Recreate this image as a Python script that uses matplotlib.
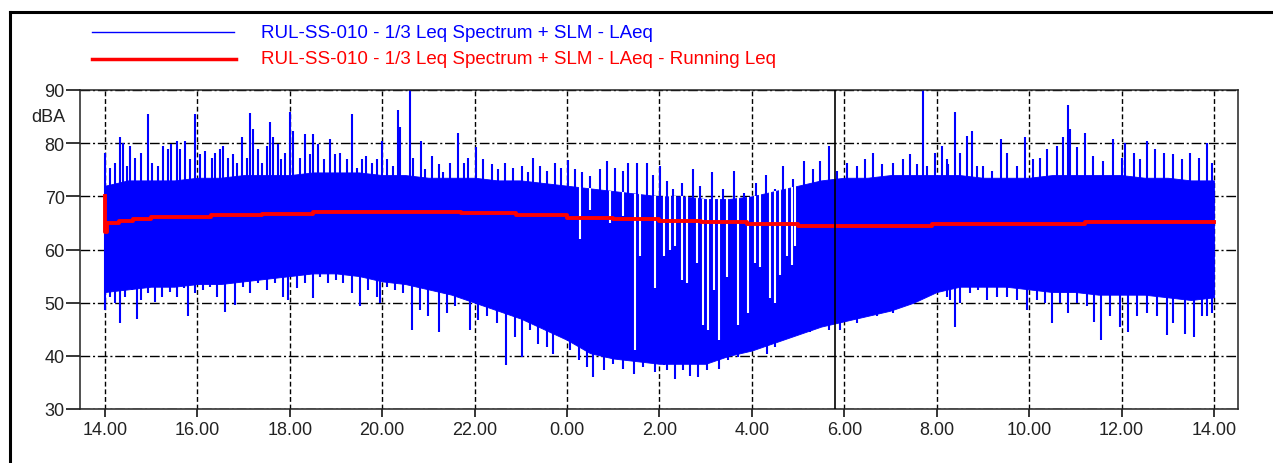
import numpy as np
import matplotlib
matplotlib.use('Agg')
import matplotlib.pyplot as plt
from matplotlib.lines import Line2D

plt.rcParams['font.family'] = ['Liberation Sans', 'DejaVu Sans']

# time in hours from midnight of day 1 (values above 24 are the next day)
hours = np.arange(14.0, 38.01, 0.5)

# dense part of the LAeq trace (dBA), read every half hour
core_hi = [72, 73, 73, 73, 73.5, 73.5, 74, 74, 74, 74.5, 74.5, 74.5,
           74, 74, 73.5, 73.5, 73.5, 73, 73, 72.5, 72, 71.5, 71, 70.5,
           70, 70, 69.5, 69.5, 70, 71, 72, 73, 73.5, 73.5, 74, 74,
           74, 74, 73.5, 73.5, 73.5, 74, 74, 74, 74, 73.5, 73.5, 73, 73]
core_lo = [52, 52.5, 53, 53, 53.5, 53.5, 54, 54.5, 55, 55.5, 55.5, 55,
           54, 53.5, 52.5, 51.5, 50, 48.5, 47, 45, 43, 40.5, 39.5, 39,
           38.5, 38.5, 38.5, 40, 41, 42.5, 44, 45.5, 46.5, 47.5, 48.5, 50,
           52, 53, 53, 53, 52.5, 52, 52, 51.5, 51.5, 51.5, 51, 50.5, 51]

# single peaks above the dense part (hour, dBA)
peaks = [(14.00, 78.2), (14.11, 75.4), (14.22, 76.3), (14.33, 81.1), (14.38, 80.1),
         (14.47, 75.7), (14.54, 79.5), (14.65, 77.3), (14.79, 78.2), (14.94, 85.4),
         (15.01, 76.3), (15.15, 75.7), (15.26, 79.5), (15.37, 78.9), (15.44, 79.8),
         (15.55, 80.4), (15.62, 78.9), (15.73, 80.4), (15.84, 77.0), (15.95, 85.4),
         (16.06, 77.9), (16.16, 78.6), (16.31, 77.3), (16.38, 78.2), (16.49, 78.9),
         (16.56, 79.5), (16.67, 77.3), (16.78, 77.9), (16.85, 76.3), (16.96, 81.1),
         (17.07, 77.3), (17.14, 85.7), (17.21, 82.6), (17.32, 78.9), (17.39, 76.3),
         (17.50, 79.5), (17.57, 84.0), (17.64, 81.1), (17.75, 79.8), (17.82, 77.0),
         (17.90, 78.2), (18.00, 85.9), (18.08, 82.3), (18.22, 77.3), (18.33, 81.7),
         (18.44, 77.9), (18.51, 81.7), (18.62, 79.8), (18.73, 77.0), (18.87, 80.8),
         (18.98, 77.9), (19.09, 78.2), (19.23, 77.0), (19.34, 85.4), (19.45, 75.4),
         (19.56, 77.0), (19.66, 77.6), (19.77, 76.3), (19.88, 77.0), (19.99, 80.4),
         (20.10, 77.0), (20.24, 75.7), (20.35, 86.3), (20.39, 83.0), (20.60, 90.0),
         (20.67, 77.3), (20.83, 80.4), (20.93, 75.1), (21.07, 77.6), (21.22, 76.0),
         (21.32, 74.5), (21.47, 76.3), (21.63, 82.0), (21.76, 76.3), (21.86, 77.3),
         (22.04, 79.2), (22.19, 77.0), (22.37, 76.0), (22.51, 75.1), (22.66, 76.3),
         (22.84, 75.4), (23.02, 75.7), (23.16, 74.5), (23.27, 77.3), (23.42, 75.7),
         (23.56, 74.8), (23.74, 76.3), (23.88, 75.4), (24.03, 76.8), (24.17, 75.1),
         (24.32, 74.5), (24.50, 73.8), (24.71, 75.1), (24.86, 76.7), (25.04, 75.4),
         (25.22, 74.8), (25.33, 76.3), (25.51, 76.3), (25.72, 76.3), (25.87, 74.1),
         (26.01, 75.7), (26.16, 72.9), (26.30, 71.3), (26.48, 72.6), (26.73, 75.1),
         (26.88, 71.9), (27.13, 74.5), (27.38, 71.3), (27.61, 74.8), (27.82, 70.7),
         (28.10, 72.6), (28.31, 74.1), (28.50, 71.3), (28.67, 75.7), (28.90, 73.2),
         (29.12, 76.7), (29.33, 75.1), (29.48, 76.7), (29.66, 79.5), (29.84, 74.8),
         (30.05, 76.3), (30.27, 75.7), (30.45, 77.0), (30.63, 78.2), (30.81, 76.0),
         (31.06, 76.3), (31.28, 77.0), (31.42, 77.9), (31.57, 76.0), (31.70, 90.0),
         (31.79, 75.7), (31.97, 78.2), (32.11, 79.5), (32.22, 77.0), (32.25, 76.0),
         (32.40, 85.8), (32.51, 78.2), (32.65, 81.4), (32.76, 82.3), (32.87, 75.7),
         (33.01, 75.7), (33.19, 74.8), (33.39, 80.8), (33.52, 78.2), (33.73, 75.7),
         (33.91, 81.1), (34.09, 77.0), (34.24, 77.3), (34.38, 78.9), (34.60, 79.5),
         (34.74, 81.1), (34.85, 87.2), (34.89, 82.6), (35.03, 79.2), (35.21, 82.0),
         (35.39, 77.6), (35.61, 76.7), (35.81, 80.8), (36.01, 77.3), (36.08, 80.1),
         (36.26, 78.2), (36.40, 77.0), (36.55, 80.4), (36.73, 78.9), (36.91, 78.2),
         (37.12, 77.9), (37.30, 77.0), (37.49, 78.2), (37.67, 77.3), (37.85, 80.1),
         (37.95, 76.3)]

# single dips below the dense part (hour, dBA)
dips = [(14.00, 48.6), (14.11, 51.1), (14.22, 49.9), (14.33, 46.1), (14.43, 51.1),
        (14.58, 52.4), (14.69, 47.0), (14.79, 50.5), (14.94, 51.8), (15.08, 50.2),
        (15.23, 51.1), (15.41, 52.1), (15.55, 51.1), (15.70, 52.7), (15.80, 47.4),
        (15.95, 51.8), (16.13, 52.4), (16.27, 53.0), (16.42, 51.1), (16.60, 48.3),
        (16.81, 49.6), (16.99, 53.0), (17.14, 51.8), (17.32, 53.7), (17.50, 52.4),
        (17.68, 53.7), (17.86, 51.1), (17.97, 50.5), (18.15, 52.7), (18.33, 53.7),
        (18.51, 50.8), (18.65, 54.9), (18.83, 53.7), (19.01, 54.3), (19.16, 53.7),
        (19.34, 51.8), (19.52, 49.3), (19.70, 52.4), (19.88, 51.1), (19.95, 49.9),
        (20.10, 53.0), (20.28, 52.4), (20.46, 51.8), (20.64, 44.8), (20.82, 48.6),
        (21.00, 47.4), (21.22, 44.5), (21.40, 48.0), (21.58, 49.3), (21.90, 44.8),
        (22.08, 46.7), (22.26, 47.4), (22.48, 46.1), (22.69, 38.2), (22.87, 43.6),
        (23.02, 39.8), (23.20, 44.8), (23.38, 42.3), (23.56, 41.7), (23.70, 40.4),
        (23.88, 43.6), (24.06, 41.1), (24.25, 39.2), (24.43, 37.9), (24.57, 36.0),
        (24.79, 37.3), (25.00, 38.5), (25.22, 37.6), (25.44, 36.6), (25.65, 37.9),
        (25.90, 37.0), (26.09, 38.2), (26.16, 37.3), (26.34, 35.7), (26.52, 37.3),
        (26.66, 36.3), (26.84, 36.0), (27.02, 37.3), (27.28, 37.6), (27.49, 39.2),
        (27.71, 39.8), (27.92, 41.1), (28.10, 41.7), (28.32, 40.4), (28.50, 41.7),
        (28.68, 42.9), (28.86, 43.6), (29.04, 44.8), (29.26, 44.5), (29.48, 46.1),
        (29.66, 44.8), (29.91, 44.8), (30.09, 47.4), (30.27, 46.1), (30.49, 48.0),
        (30.70, 47.4), (30.92, 48.6), (31.06, 48.0), (31.28, 50.2), (31.50, 50.5),
        (31.71, 52.4), (32.00, 52.4), (32.22, 51.1), (32.29, 50.5), (32.40, 45.5),
        (32.51, 49.9), (32.72, 51.8), (32.90, 52.4), (33.08, 50.5), (33.30, 51.1),
        (33.52, 51.1), (33.73, 50.5), (33.95, 48.6), (34.17, 50.5), (34.35, 49.9),
        (34.49, 46.1), (34.67, 49.9), (34.85, 48.0), (35.03, 49.9), (35.25, 49.3),
        (35.41, 46.4), (35.55, 42.9), (35.75, 47.4), (35.97, 45.5), (36.15, 44.5),
        (36.33, 47.4), (36.55, 48.0), (36.76, 47.4), (36.98, 43.9), (37.12, 46.1),
        (37.38, 44.2), (37.56, 43.6), (37.74, 47.4), (37.85, 47.4), (37.95, 48.0)]

# quiet moments at night where the trace drops from the top (hour, lowest dBA of the gap)
gaps = [(24.28, 61.9), (24.50, 67.5), (24.93, 65.0), (25.22, 66.3), (25.47, 41.1),
        (25.58, 58.7), (25.90, 52.7), (26.09, 58.7), (26.23, 60.0), (26.34, 60.6),
        (26.48, 54.3), (26.59, 53.7), (26.82, 57.4), (26.95, 45.8), (27.06, 44.8),
        (27.17, 52.4), (27.28, 42.9), (27.46, 54.9), (27.71, 45.8), (27.92, 48.0),
        (28.07, 57.4), (28.18, 56.8), (28.39, 50.8), (28.50, 49.9), (28.61, 55.2),
        (28.75, 58.7), (28.86, 57.1), (28.93, 60.6)]

# running Leq (step values)
leq_t = [14.0, 14.01, 14.05, 14.3, 14.6, 15.0, 16.3, 17.4, 18.5, 21.7, 22.9,
         24.0, 25.0, 26.0, 26.9, 27.9, 29.0, 31.9, 35.2, 38.0]
leq_v = [70.0, 63.3, 65.0, 65.4, 65.7, 66.2, 66.4, 66.7, 67.0, 66.8, 66.4,
         65.9, 65.7, 65.4, 65.1, 64.8, 64.5, 64.8, 65.1, 65.1]

cursor_t = 29.8
tick_hours = np.arange(14, 39, 2)
tick_labels = ['%d.00' % (h % 24) for h in tick_hours]

blue = '#0000ff'
red = '#ff0000'
W, H = 1273, 464

fig = plt.figure(figsize=(W / 100, H / 100), dpi=100)
ax = fig.add_axes([80 / W, 1 - 410 / H, (1237.5 - 80) / W, (410 - 91) / H])
ax.set_xlim(13.46, 38.51)
ax.set_ylim(30, 90)

ax.fill_between(hours, core_lo, core_hi, color=blue, lw=0.6, zorder=2)
pt, pv = zip(*peaks)
ax.vlines(pt, 65, pv, color=blue, lw=1.5, zorder=2)
dt, dv = zip(*dips)
ax.vlines(dt, 65, dv, color=blue, lw=1.5, zorder=2)
gt, gv = zip(*gaps)
ax.vlines(gt, gv, np.interp(gt, hours, core_hi), color='white', lw=1.5, zorder=3)

ax.step(leq_t, leq_v, where='post', color=red, lw=2.8, zorder=4)
ax.axvline(cursor_t, color='k', lw=1.2, zorder=5)

ax.set_xticks(tick_hours)
ax.set_xticklabels(tick_labels)
ax.set_yticks([30, 40, 50, 60, 70, 80, 90])
ax.xaxis.grid(True, linestyle=(0, (3.5, 2)), color='k', lw=1)
ax.yaxis.grid(True, linestyle=(0, (7, 2, 1.5, 2)), color='k', lw=1)
ax.set_axisbelow(True)
ax.tick_params(axis='y', length=10, width=1.1, pad=1, labelsize=13, labelcolor='#222222')
ax.tick_params(axis='x', length=6, width=1.1, pad=3, labelsize=13, labelcolor='#222222')
for s in ax.spines.values():
    s.set_linewidth(1.1)
    s.set_color('#222222')

fig.text(65 / W, 1 - 118 / H, 'dBA', ha='right', va='center', fontsize=13, color='#222222')

# legend drawn by hand, no frame
fig.add_artist(Line2D([92 / W, 234 / W], [1 - 33 / H] * 2, color=blue, lw=1.0))
fig.add_artist(Line2D([92 / W, 236 / W], [1 - 60 / H] * 2, color=red, lw=2.5))
fig.text(261 / W, 1 - 33 / H, 'RUL-SS-010 - 1/3 Leq Spectrum + SLM - LAeq',
         color=blue, fontsize=13.5, va='center')
fig.text(261 / W, 1 - 59 / H, 'RUL-SS-010 - 1/3 Leq Spectrum + SLM - LAeq - Running Leq',
         color=red, fontsize=13.5, va='center')

# outer frame (top and left edges visible)
fig.add_artist(Line2D([10 / W, 1], [1 - 13 / H] * 2, color='k', lw=2.2))
fig.add_artist(Line2D([10 / W] * 2, [0, 1 - 13 / H], color='k', lw=2.2))

fig.savefig('out.png', dpi=100)
